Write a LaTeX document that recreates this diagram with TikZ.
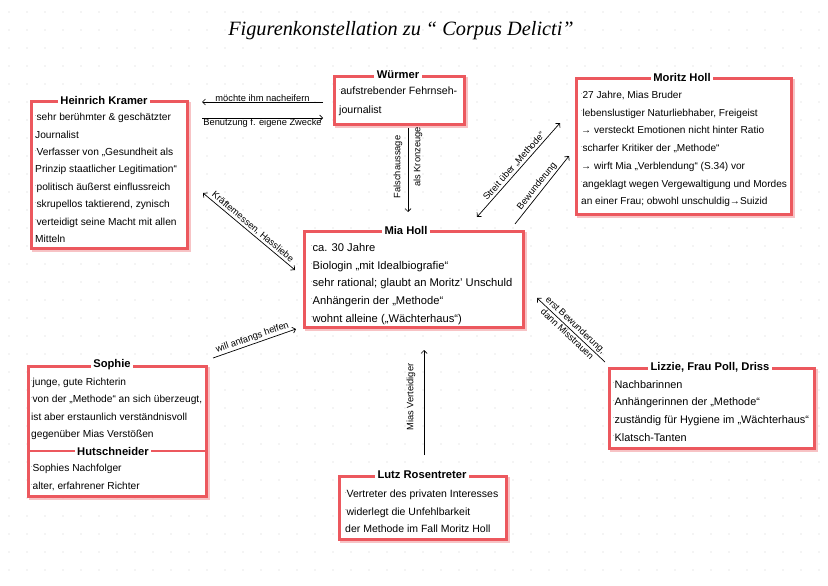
\documentclass[tikz,border=0pt]{standalone}
\usepackage{fontspec}
\setmainfont{Liberation Sans}
\newfontfamily\titlefont{Liberation Serif}
\usetikzlibrary{arrows.meta,shadows}
\definecolor{boxred}{RGB}{236,88,94}
\definecolor{boxshade}{RGB}{246,180,183}
\definecolor{griddot}{RGB}{210,210,210}
\newcommand{\bdot}{\raisebox{0.8ex}{\fontsize{5}{5}\selectfont.}}
\begin{document}
\begin{tikzpicture}[x=1pt,y=-1pt,
  box/.style={draw=boxred, line width=2.6pt, fill=white, anchor=north west, inner sep=0pt,
    drop shadow={shadow xshift=2.5pt,shadow yshift=-2.5pt,fill=none,draw=boxshade,line width=3pt,opacity=0.8}},
  btitle/.style={fill=white, font=\fontsize{11.2}{13}\selectfont\bfseries, inner xsep=2.5pt, inner ysep=1pt},
  btext/.style={anchor=north west, inner sep=0pt, align=left},
  arr/.style={line width=0.7pt, -{Straight Barb[length=3pt,width=6pt]}},
  darr/.style={line width=0.7pt, {Straight Barb[length=3pt,width=6pt]}-{Straight Barb[length=3pt,width=6pt]}},
  lbl/.style={font=\fontsize{9.3}{10}\selectfont, inner sep=1.5pt}]
\useasboundingbox (0,0) rectangle (828,586);
\fill[white] (0,0) rectangle (828,586);
\foreach \x in {9,27,...,828} \foreach \y in {12,30,...,586} \fill[griddot] (\x,\y) circle (0.7pt);

% title
\node[font=\titlefont\itshape\fontsize{20.3}{24}\selectfont] (title) at (401,31) {Figurenkonstellation zu “ Corpus Delicti”};

% boxes
\node[box, minimum width=130pt, minimum height=48pt] (wurmer) at (333,75) {};
\node[box, minimum width=156pt, minimum height=147pt] (kramer) at (30,100) {};
\node[box, minimum width=215pt, minimum height=136pt] (moritz) at (575,77) {};
\node[box, minimum width=219pt, minimum height=96pt] (mia) at (303,230) {};
\node[box, minimum width=178pt, minimum height=130pt] (sophie) at (27,365) {};
\node[box, minimum width=205pt, minimum height=80pt] (lizzie) at (608,367) {};
\node[box, minimum width=167pt, minimum height=63pt] (lutz) at (338,475) {};
\draw[boxred, line width=2.6pt] (sophie.west |- 0,451) coordinate (hutL) -- (sophie.east |- 0,451) coordinate (hutR);

% titles
\node[btitle] (wurmerT) at (398,75) {Würmer};
\node[btitle] (kramerT) at (104,100) {Heinrich Kramer};
\node[btitle] (moritzT) at (682,77) {Moritz Holl};
\node[btitle] (miaT) at (406,230) {Mia Holl};
\node[btitle] (sophieT) at (112,365) {Sophie};
\node[btitle] (hutT) at (113,451) {Hutschneider};
\node[btitle] (lizzieT) at (710,367) {Lizzie, Frau Poll, Driss};
\node[btitle] (lutzT) at (422,475) {Lutz Rosentreter};

% texts
\node[btext, font=\fontsize{10.6}{18.8}\selectfont] (wurmerX) at (339,87) {\bdot aufstrebender Fehrnseh-\\journalist};
\node[btext, font=\fontsize{10.2}{17.45}\selectfont] (kramerX) at (35,113) {\bdot sehr berühmter \& geschätzter\\Journalist\\\bdot Verfasser von „Gesundheit als\\Prinzip staatlicher Legitimation“\\\bdot politisch äußerst einflussreich\\\bdot skrupellos taktierend, zynisch\\\bdot verteidigt seine Macht mit allen\\Mitteln};
\node[btext, font=\fontsize{10.1}{17.7}\selectfont] (moritzX) at (581,91) {\bdot 27 Jahre, Mias Bruder\\\bdot lebenslustiger Naturliebhaber, Freigeist\\→ versteckt Emotionen nicht hinter Ratio\\\bdot scharfer Kritiker der „Methode“\\→ wirft Mia „Verblendung“ (S.34) vor\\\bdot angeklagt wegen Vergewaltigung und Mordes\\an einer Frau; obwohl unschuldig→Suizid};
\node[btext, font=\fontsize{11.2}{17.75}\selectfont] (miaX) at (311,243) {\bdot ca. 30 Jahre\\\bdot Biologin „mit Idealbiografie“\\\bdot sehr rational; glaubt an Moritz' Unschuld\\\bdot Anhängerin der „Methode“\\\bdot wohnt alleine („Wächterhaus“)};
\node[btext, font=\fontsize{10.2}{17.3}\selectfont] (sophieX) at (31,378) {\bdot junge, gute Richterin\\\bdot von der „Methode“ an sich überzeugt,\\ist aber erstaunlich verständnisvoll\\gegenüber Mias Verstößen};
\node[btext, font=\fontsize{10.2}{18}\selectfont] (hutX) at (31,464) {\bdot Sophies Nachfolger\\\bdot alter, erfahrener Richter};
\node[btext, font=\fontsize{10.9}{17.7}\selectfont] (lizzieX) at (613,380) {\bdot Nachbarinnen\\\bdot Anhängerinnen der „Methode“\\\bdot zuständig für Hygiene im „Wächterhaus“\\\bdot Klatsch-Tanten};
\node[btext, font=\fontsize{10.5}{17.5}\selectfont] (lutzX) at (345,490) {\bdot Vertreter des privaten Interesses\\\bdot widerlegt die Unfehlbarkeit\\der Methode im Fall Moritz Holl};

% connector end points
\coordinate (n1) at (323,102); \coordinate (n2) at (202,102);
\coordinate (b1) at (202,118); \coordinate (b2) at (323,118);
\coordinate (f1) at (408,128); \coordinate (f2) at (408,212);
\coordinate (k1) at (203,193); \coordinate (k2) at (295,270);
\coordinate (h1) at (213,358); \coordinate (h2) at (296,329);
\coordinate (s1) at (477,217); \coordinate (s2) at (560,123);
\coordinate (w1) at (515,224); \coordinate (w2) at (569,156);
\coordinate (m1) at (537,298); \coordinate (m2) at (605,362);
\coordinate (v1) at (424,455); \coordinate (v2) at (424,350);

% connectors
\draw[arr] (n1) -- (n2) node[midway, above, lbl, yshift=-1pt] (nL) {möchte ihm nacheifern};
\draw[arr] (b1) -- (b2) node[midway, below, lbl, yshift=1pt] (bL) {Benutzung f. eigene Zwecke};
\draw[arr] (f1) -- (f2);
\node[lbl, rotate=90] (fL) at (398,167) {Falschaussage};
\node[lbl, rotate=90] (fL2) at (418,157) {als Kronzeuge};
\draw[darr] (k1) -- (k2) node[midway, sloped, above, lbl] (kL) {Kräftemessen, Hassliebe};
\draw[arr] (h1) -- (h2) node[midway, sloped, above, lbl] (hL) {will anfangs helfen};
\draw[darr] (s1) -- (s2) node[midway, sloped, above, lbl] (sL) {Streit über „Methode“};
\draw[arr] (w1) -- (w2) node[midway, sloped, above, lbl] (wL) {Bewunderung};
\draw[arr] (m2) -- (m1);
\path (m1) -- (m2) node[midway, sloped, above, lbl] (mL1) {erst Bewunderung,} node[midway, sloped, below, lbl] (mL2) {dann Misstrauen};
\draw[arr] (v1) -- (v2);
\node[lbl, rotate=90] (vL) at (411,397) {Mias Verteidiger};
\end{tikzpicture}
\end{document}
